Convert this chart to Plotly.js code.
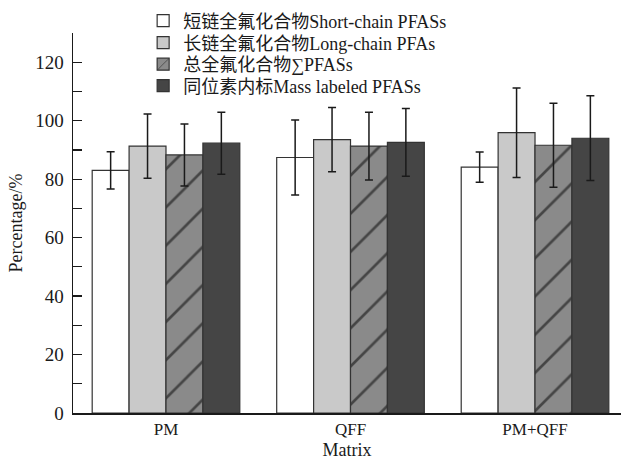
<!DOCTYPE html>
<html><head><meta charset="utf-8">
<script src="https://cdn.plot.ly/plotly-3.0.1.min.js"></script>
<style>body{margin:0;background:#fff}</style>
</head><body><div id="chart" style="width:621px;height:460px"></div>
<script>
const categories = ['PM', 'QFF', 'PM+QFF'];
const seriesNames = ['短链全氟化合物Short-chain PFASs', '长链全氟化合物Long-chain PFAs', '总全氟化合物∑PFASs', '同位素内标Mass labeled PFASs'];
const shortChain = [83.0, 87.4, 84.1];
const shortChainErr = [6.4, 12.8, 5.2];
const longChain = [91.3, 93.5, 95.9];
const longChainErr = [11.0, 11.0, 15.3];
const totalPFAS = [88.3, 91.3, 91.6];
const totalPFASErr = [10.6, 11.6, 14.4];
const massLabeled = [92.3, 92.6, 94.0];
const massLabeledErr = [10.6, 11.6, 14.5];
const yTicks = [0, 20, 40, 60, 80, 100, 120];

const FONT = '"Liberation Serif", "Times New Roman", "Noto Sans CJK SC", serif';
const values = [shortChain, longChain, totalPFAS, massLabeled];
const errs = [shortChainErr, longChainErr, totalPFASErr, massLabeledErr];
const fills = ['#ffffff', '#c9c9c9', '#8a8a8a', '#454545'];
const legendIds = ['legend', 'legend2', 'legend3', 'legend4'];
const legendRowsPx = [21, 43, 64.5, 86];

const traces = values.map((v, i) => ({
  type: 'bar',
  name: seriesNames[i],
  legend: legendIds[i],
  x: categories,
  y: v,
  error_y: {type: 'data', array: errs[i], visible: true, color: '#1a1a1a', thickness: 1.5, width: 4},
  marker: {
    color: fills[i],
    line: {color: '#333333', width: 1.2},
    pattern: i === 2 ? {shape: '/', size: 27, solidity: 0.1, fgcolor: '#000000', bgcolor: fills[i], fillmode: 'overlay'} : {shape: ''}
  }
}));

const plotTop = 33, plotH = 380;
const layout = {
  width: 621, height: 460,
  margin: {l: 73, r: 0, t: plotTop, b: 47},
  paper_bgcolor: '#ffffff', plot_bgcolor: '#ffffff',
  font: {family: FONT, color: '#1a1a1a', size: 17},
  barmode: 'group', bargap: 0.2, bargroupgap: 0,
  showlegend: true,
  xaxis: {
    type: 'category', range: [-0.504, 2.466],
    showline: true, linecolor: '#1a1a1a', linewidth: 1.5,
    ticks: '', showgrid: false, zeroline: false,
    tickfont: {family: FONT, size: 17, color: '#1a1a1a'},
    title: {text: 'Matrix', font: {family: FONT, size: 18, color: '#1a1a1a'}, standoff: 6}
  },
  yaxis: {
    range: [0, 130], tickvals: yTicks, ticktext: yTicks.map(String),
    showline: true, linecolor: '#1a1a1a', linewidth: 1.5,
    ticks: 'inside', ticklen: 9, tickwidth: 1.2, tickcolor: '#1a1a1a',
    minor: {dtick: 10, tick0: 0, ticks: 'inside', ticklen: 9, tickwidth: 1.2, tickcolor: '#1a1a1a', showgrid: false},
    showgrid: false, zeroline: false,
    tickfont: {family: FONT, size: 19, color: '#1a1a1a'},
    ticklabelstandoff: 4,
    title: {text: 'Percentage/%', font: {family: FONT, size: 18, color: '#1a1a1a'}, standoff: 8}
  }
};
legendIds.forEach((id, i) => {
  layout[id] = {
    x: 0.128, y: 1 + (plotTop - legendRowsPx[i]) / plotH, xanchor: 'left', yanchor: 'middle',
    bgcolor: 'rgba(255,255,255,0)', borderwidth: 0,
    font: {family: FONT, size: 18, color: '#1a1a1a'},
    itemclick: false
  };
});

Plotly.newPlot('chart', traces, layout, {displayModeBar: false, staticPlot: true});
</script>
</body></html>
